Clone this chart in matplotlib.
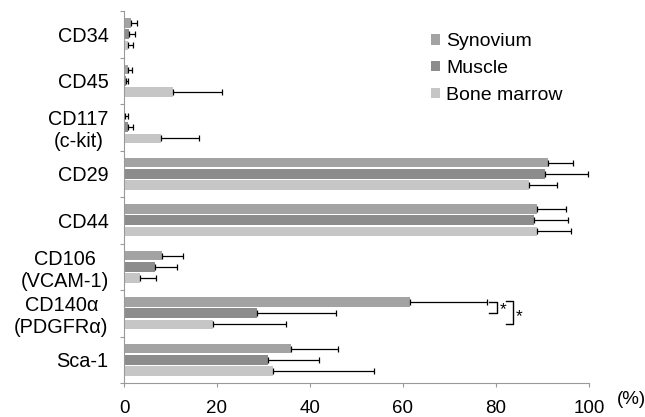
import matplotlib
matplotlib.use("Agg")
import matplotlib.pyplot as plt
import numpy as np

plt.rcParams['font.family'] = ['Liberation Sans', 'DejaVu Sans']

categories = ["CD34", "CD45", "CD117\n(c-kit)", "CD29", "CD44",
              "CD106\n(VCAM-1)", "CD140\u03b1\n(PDGFR\u03b1)", "Sca-1"]
series = ["Synovium", "Muscle", "Bone marrow"]
synovium = [1.5, 0.8, 0.3, 91.2, 88.8, 8.1, 61.5, 35.9]
synovium_err = [1.3, 0.9, 0.5, 5.4, 6.2, 4.5, 16.5, 10.2]
muscle = [1.1, 0.4, 0.9, 90.5, 88.2, 6.7, 28.7, 30.9]
muscle_err = [1.3, 0.4, 1.0, 9.2, 7.2, 4.6, 16.9, 11.0]
marrow = [0.9, 10.6, 7.9, 87.1, 88.8, 3.4, 19.1, 32.1]
marrow_err = [1.1, 10.4, 8.3, 6.0, 7.3, 3.5, 15.7, 21.7]
colors = ["#a3a3a3", "#8c8c8c", "#c6c6c6"]
xticks = [0, 20, 40, 60, 80, 100]

fig = plt.figure(figsize=(6.45, 4.17), dpi=100)
ax = fig.add_axes([124/645, 1-383/417, 465/645, 372/417])

n = len(categories)
centers = np.arange(n) + 0.5
offsets = [-0.237, 0.0, 0.237]
vals = [synovium, muscle, marrow]
errs = [synovium_err, muscle_err, marrow_err]
for k in range(3):
    ax.barh(centers + offsets[k], vals[k], height=0.205, color=colors[k],
            label=series[k], zorder=2)
    ax.errorbar(vals[k], centers + offsets[k], xerr=[np.zeros(n), errs[k]],
                fmt='none', ecolor='black', elinewidth=0.9, capsize=2.3,
                capthick=0.9, zorder=3)

ax.set_xlim(0, 100)
ax.set_ylim(n, 0)
ax.set_xticks(xticks)
ax.set_xticklabels([str(t) for t in xticks], fontsize=13.5)
ax.tick_params(axis='x', length=3, width=0.8, color='#999999', pad=9)
ax.set_yticks(np.arange(n + 1))
ax.set_yticklabels([])
ax.tick_params(axis='y', which='major', length=3, width=0.8, color='#999999')
ax.set_yticks(centers, minor=True)
ax.set_yticklabels(categories, minor=True, fontsize=14.3, multialignment='center')
ax.tick_params(axis='y', which='minor', length=0, pad=11)
for s in ['top', 'right']:
    ax.spines[s].set_visible(False)
for s in ['left', 'bottom']:
    ax.spines[s].set_color('#999999')
    ax.spines[s].set_linewidth(0.8)

# significance brackets for CD140a
i = 6
y_syn = centers[i] + offsets[0]
y_mus = centers[i] + offsets[1]
y_bm = centers[i] + offsets[2]
ax.plot([78.5, 80.2, 80.2, 78.5], [y_syn, y_syn, y_mus, y_mus], color='black', lw=1.0, zorder=4)
ax.text(80.8, (y_syn + y_mus) / 2 + 0.03, "*", fontsize=12.5, ha='left', va='center')
ax.plot([82.2, 83.7, 83.7, 82.2], [y_syn - 0.02, y_syn - 0.02, y_bm, y_bm], color='black', lw=1.0, zorder=4)
ax.text(84.2, (y_syn + y_bm) / 2 + 0.07, "*", fontsize=12.5, ha='left', va='center')

ax.legend(loc='upper left', bbox_to_anchor=(0.66, 0.94), frameon=False,
          fontsize=14, handlelength=0.45, handleheight=0.45, handletextpad=0.35,
          labelspacing=0.5, borderaxespad=0, borderpad=0)

fig.text(617/645, 1-400/417, "(%)", fontsize=13.5, ha='left', va='center')

fig.savefig("out.png", dpi=100)
